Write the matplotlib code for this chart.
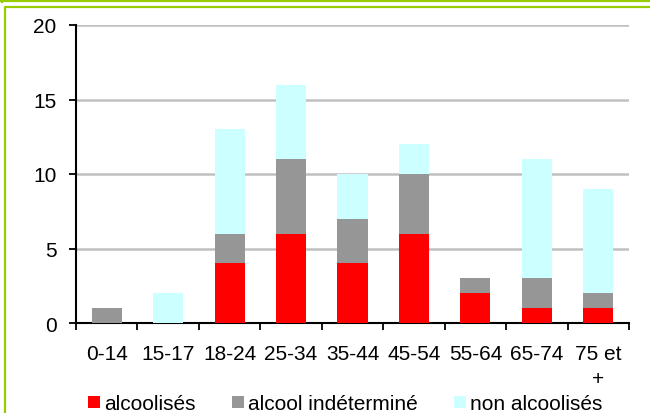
import matplotlib
matplotlib.use("Agg")
import matplotlib.pyplot as plt
from matplotlib.lines import Line2D
import numpy as np

categories = ["0-14", "15-17", "18-24", "25-34", "35-44", "45-54", "55-64", "65-74", "75 et\n+"]
alcoolises = [0, 0, 4, 6, 4, 6, 2, 1, 1]
indetermine = [1, 0, 2, 5, 3, 4, 1, 2, 1]
non_alcoolises = [0, 2, 7, 5, 3, 2, 0, 8, 7]
series_labels = ["alcoolisés", "alcool indéterminé", "non alcoolisés"]
y_ticks = [0, 5, 10, 15, 20]

plt.rcParams["font.family"] = ["Liberation Sans", "DejaVu Sans"]
FS = 15

W, H = 650, 414
fig = plt.figure(figsize=(W / 100, H / 100), dpi=100)
ax = fig.add_axes([76 / W, 1 - 324 / H, (629 - 76) / W, (324 - 26) / H])

x = np.arange(len(categories))
a = np.array(alcoolises)
b = np.array(indetermine)
c = np.array(non_alcoolises)
width = 0.49
ax.bar(x, a, width, color="#ff0000", label=series_labels[0], zorder=3)
ax.bar(x, b, width, bottom=a, color="#969696", label=series_labels[1], zorder=3)
ax.bar(x, c, width, bottom=a + b, color="#ccffff", label=series_labels[2], zorder=3)

ax.set_xlim(-0.5, len(categories) - 0.5)
ax.set_ylim(0, 20)
ax.set_yticks(y_ticks)
ax.yaxis.grid(True, color="#c0c0c0", linewidth=1.8, zorder=0)
ax.set_axisbelow(True)

ax.set_xticks(x)
ax.set_xticklabels(categories, fontsize=FS, linespacing=1.4)
ax.set_xticks(np.arange(-0.5, len(categories), 1.0), minor=True)
ax.tick_params(axis="x", which="major", length=0, pad=15)
ax.tick_params(axis="x", which="minor", length=5, width=1.3, direction="out")
ax.tick_params(axis="y", length=5, width=1.3, direction="out", labelsize=FS, pad=9)

for side in ("top", "right"):
    ax.spines[side].set_visible(False)
for side in ("left", "bottom"):
    ax.spines[side].set_linewidth(1.5)
    ax.spines[side].set_color("black")

fig.legend(loc="center", bbox_to_anchor=(345 / W, 1 - 405 / H), ncol=3, frameon=False,
           fontsize=FS, handlelength=0.58, handleheight=0.55, handletextpad=0.19,
           columnspacing=1.75, borderpad=0, borderaxespad=0)

# green decorative frame
green = "#99cc00"
fig.add_artist(Line2D([0, 1], [1 - 1.5 / H, 1 - 1.5 / H], color=green, lw=1.6, transform=fig.transFigure))
fig.add_artist(Line2D([1.5 / W, 1.5 / W], [1, 1 - 3 / H], color=green, lw=1.6, transform=fig.transFigure))
fig.add_artist(Line2D([1, 5 / W, 5 / W], [1 - 8 / H, 1 - 8 / H, 0], color=green, lw=1.6, transform=fig.transFigure))

fig.savefig("out.png", dpi=100)
